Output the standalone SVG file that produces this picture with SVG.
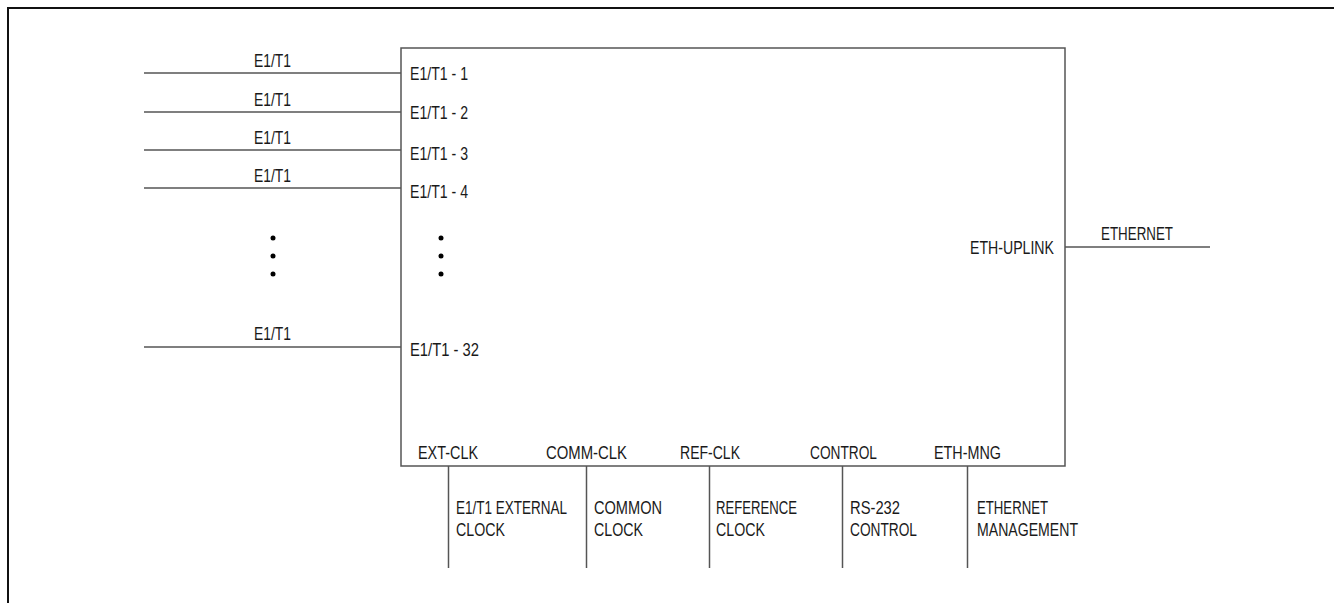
<svg xmlns="http://www.w3.org/2000/svg" width="1334" height="603" viewBox="0 0 1334 603">
<style>
text{font-family:"Liberation Sans Narrow","Arial Narrow","Liberation Sans",Arial,sans-serif;font-size:18px;fill:#1a1a1a}
.ln{stroke:#555;stroke-width:1.5;fill:none}
.dot{fill:#000}
</style>
<rect width="1334" height="603" fill="#fff"/>
<rect x="8" y="8" width="1340" height="610" fill="none" stroke="#111" stroke-width="2"/>
<g id="main-box">
<rect class="ln" x="401" y="48" width="664" height="418"/>
<text transform="translate(410 80) scale(0.8 1)" textLength="72.5" lengthAdjust="spacingAndGlyphs">E1/T1 - 1</text>
<text transform="translate(410 119) scale(0.8 1)" textLength="72.5" lengthAdjust="spacingAndGlyphs">E1/T1 - 2</text>
<text transform="translate(410 160) scale(0.8 1)" textLength="72.5" lengthAdjust="spacingAndGlyphs">E1/T1 - 3</text>
<text transform="translate(410 198) scale(0.8 1)" textLength="72.5" lengthAdjust="spacingAndGlyphs">E1/T1 - 4</text>
<text transform="translate(410 356) scale(0.8 1)" textLength="86.25" lengthAdjust="spacingAndGlyphs">E1/T1 - 32</text>
<circle class="dot" cx="441" cy="238" r="2.5"/>
<circle class="dot" cx="441" cy="256" r="2.5"/>
<circle class="dot" cx="441" cy="274" r="2.5"/>
<text transform="translate(970 254) scale(0.8 1)" textLength="105" lengthAdjust="spacingAndGlyphs">ETH-UPLINK</text>
<text transform="translate(418 459) scale(0.8 1)" textLength="75" lengthAdjust="spacingAndGlyphs">EXT-CLK</text>
<text transform="translate(546 459) scale(0.8 1)" textLength="101.25" lengthAdjust="spacingAndGlyphs">COMM-CLK</text>
<text transform="translate(680 459) scale(0.8 1)" textLength="75" lengthAdjust="spacingAndGlyphs">REF-CLK</text>
<text transform="translate(810 459) scale(0.8 1)" textLength="83.75" lengthAdjust="spacingAndGlyphs">CONTROL</text>
<text transform="translate(934 459) scale(0.8 1)" textLength="83.75" lengthAdjust="spacingAndGlyphs">ETH-MNG</text>
</g>
<g id="connectors">
<line class="ln" x1="144" y1="73" x2="401" y2="73"/>
<line class="ln" x1="144" y1="112" x2="401" y2="112"/>
<line class="ln" x1="144" y1="150" x2="401" y2="150"/>
<line class="ln" x1="144" y1="188" x2="401" y2="188"/>
<line class="ln" x1="144" y1="347" x2="401" y2="347"/>
<line class="ln" x1="1065" y1="247" x2="1210" y2="247"/>
<line class="ln" x1="448.5" y1="466" x2="448.5" y2="568"/>
<line class="ln" x1="586.5" y1="466" x2="586.5" y2="568"/>
<line class="ln" x1="709.5" y1="466" x2="709.5" y2="568"/>
<line class="ln" x1="842.5" y1="466" x2="842.5" y2="568"/>
<line class="ln" x1="967.5" y1="466" x2="967.5" y2="568"/>
</g>
<g id="inputs">
<text transform="translate(254 67) scale(0.8 1)" textLength="46.25" lengthAdjust="spacingAndGlyphs">E1/T1</text>
<text transform="translate(254 106) scale(0.8 1)" textLength="46.25" lengthAdjust="spacingAndGlyphs">E1/T1</text>
<text transform="translate(254 144) scale(0.8 1)" textLength="46.25" lengthAdjust="spacingAndGlyphs">E1/T1</text>
<text transform="translate(254 182) scale(0.8 1)" textLength="46.25" lengthAdjust="spacingAndGlyphs">E1/T1</text>
<text transform="translate(254 340) scale(0.8 1)" textLength="46.25" lengthAdjust="spacingAndGlyphs">E1/T1</text>
<circle class="dot" cx="273" cy="238" r="2.5"/>
<circle class="dot" cx="273" cy="256" r="2.5"/>
<circle class="dot" cx="273" cy="274" r="2.5"/>
</g>
<g id="ethernet">
<text transform="translate(1101 240) scale(0.8 1)" textLength="90" lengthAdjust="spacingAndGlyphs">ETHERNET</text>
</g>
<g id="ext-clock"><text transform="translate(456 514) scale(0.8 1)" textLength="138.75" lengthAdjust="spacingAndGlyphs">E1/T1 EXTERNAL</text><text transform="translate(456 536) scale(0.8 1)" textLength="61.25" lengthAdjust="spacingAndGlyphs">CLOCK</text></g>
<g id="common-clock"><text transform="translate(594 514) scale(0.8 1)" textLength="85" lengthAdjust="spacingAndGlyphs">COMMON</text><text transform="translate(594 536) scale(0.8 1)" textLength="61.25" lengthAdjust="spacingAndGlyphs">CLOCK</text></g>
<g id="reference-clock"><text transform="translate(716 514) scale(0.8 1)" textLength="101.25" lengthAdjust="spacingAndGlyphs">REFERENCE</text><text transform="translate(716 536) scale(0.8 1)" textLength="61.25" lengthAdjust="spacingAndGlyphs">CLOCK</text></g>
<g id="rs232-control"><text transform="translate(850 514) scale(0.8 1)" textLength="62.5" lengthAdjust="spacingAndGlyphs">RS-232</text><text transform="translate(850 536) scale(0.8 1)" textLength="83.75" lengthAdjust="spacingAndGlyphs">CONTROL</text></g>
<g id="ethernet-management"><text transform="translate(977 514) scale(0.8 1)" textLength="88.75" lengthAdjust="spacingAndGlyphs">ETHERNET</text><text transform="translate(977 536) scale(0.8 1)" textLength="126.25" lengthAdjust="spacingAndGlyphs">MANAGEMENT</text></g>
</svg>
